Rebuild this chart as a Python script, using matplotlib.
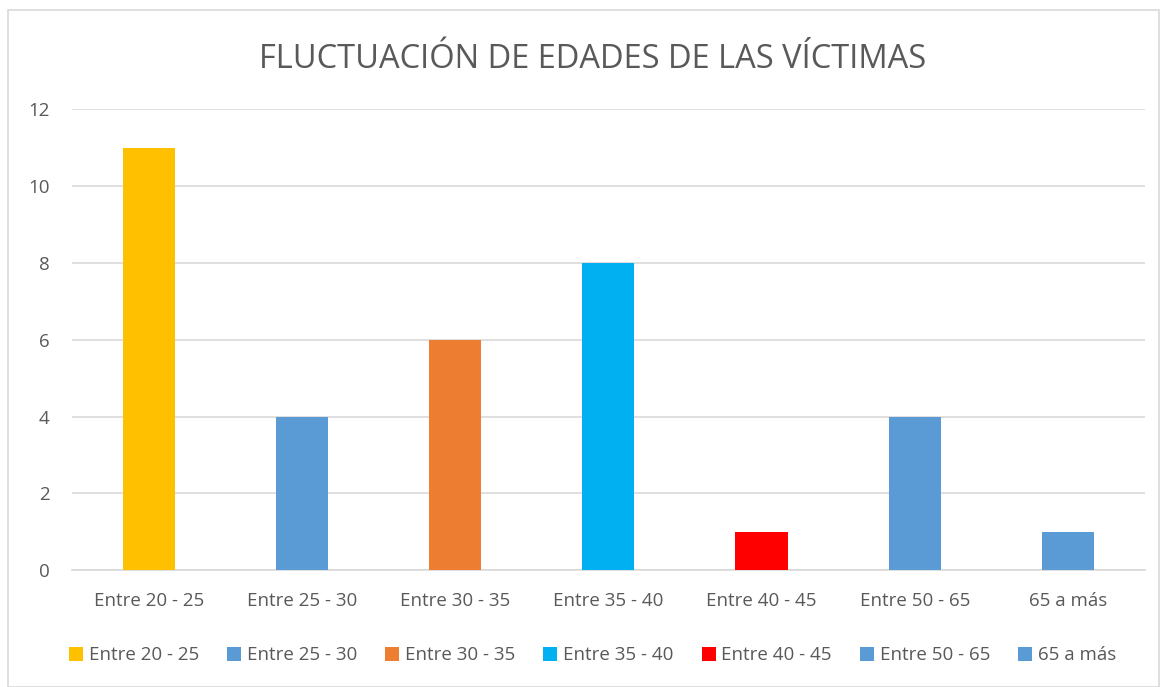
import matplotlib.pyplot as plt
from matplotlib.patches import Rectangle

plt.rcParams['font.family'] = ['Open Sans', 'DejaVu Sans']

categories = ['Entre 20 - 25', 'Entre 25 - 30', 'Entre 30 - 35', 'Entre 35 - 40',
              'Entre 40 - 45', 'Entre 50 - 65', '65 a más']
values = [11, 4, 6, 8, 1, 4, 1]
colors = ['#FFC000', '#5B9BD5', '#ED7D31', '#00B0F0', '#FF0000', '#5B9BD5', '#5B9BD5']
yticks = [0, 2, 4, 6, 8, 10, 12]

fig = plt.figure(figsize=(11.62, 6.87), dpi=100)
ax = fig.add_axes([0.062, 0.170, 0.923, 0.671])

bars = ax.bar(range(len(categories)), values, width=0.34, color=colors, zorder=3)

ax.set_xlim(-0.5, len(categories) - 0.5)
ax.set_ylim(0, 12)
ax.set_yticks(yticks)
ax.set_xticks(range(len(categories)))
ax.set_xticklabels(categories)
ax.tick_params(axis='both', length=0, labelsize=13.5, colors='#595959')
ax.tick_params(axis='x', pad=16)
ax.tick_params(axis='y', pad=16)
ax.grid(axis='y', color='#D9D9D9', linewidth=1.2, zorder=0)
for s in ['top', 'right', 'left']:
    ax.spines[s].set_visible(False)
ax.spines['bottom'].set_color('#D9D9D9')
ax.spines['bottom'].set_linewidth(1.2)

fig.text(0.51, 0.914, 'FLUCTUACIÓN DE EDADES DE LAS VÍCTIMAS', ha='center', va='center',
         fontsize=23.5, color='#595959')

fig.legend(bars, categories, loc='center', bbox_to_anchor=(0.51, 0.046), ncol=7,
           frameon=False, fontsize=13.5, labelcolor='#595959',
           handlelength=0.75, handleheight=0.75, handletextpad=0.3, columnspacing=1.5)

fig.patches.append(Rectangle((8 / 1162, 0), 1151 / 1162, 1 - 10 / 687, transform=fig.transFigure,
                             fill=False, edgecolor='#D9D9D9', linewidth=1.2))

fig.savefig('out.png', dpi=100)
